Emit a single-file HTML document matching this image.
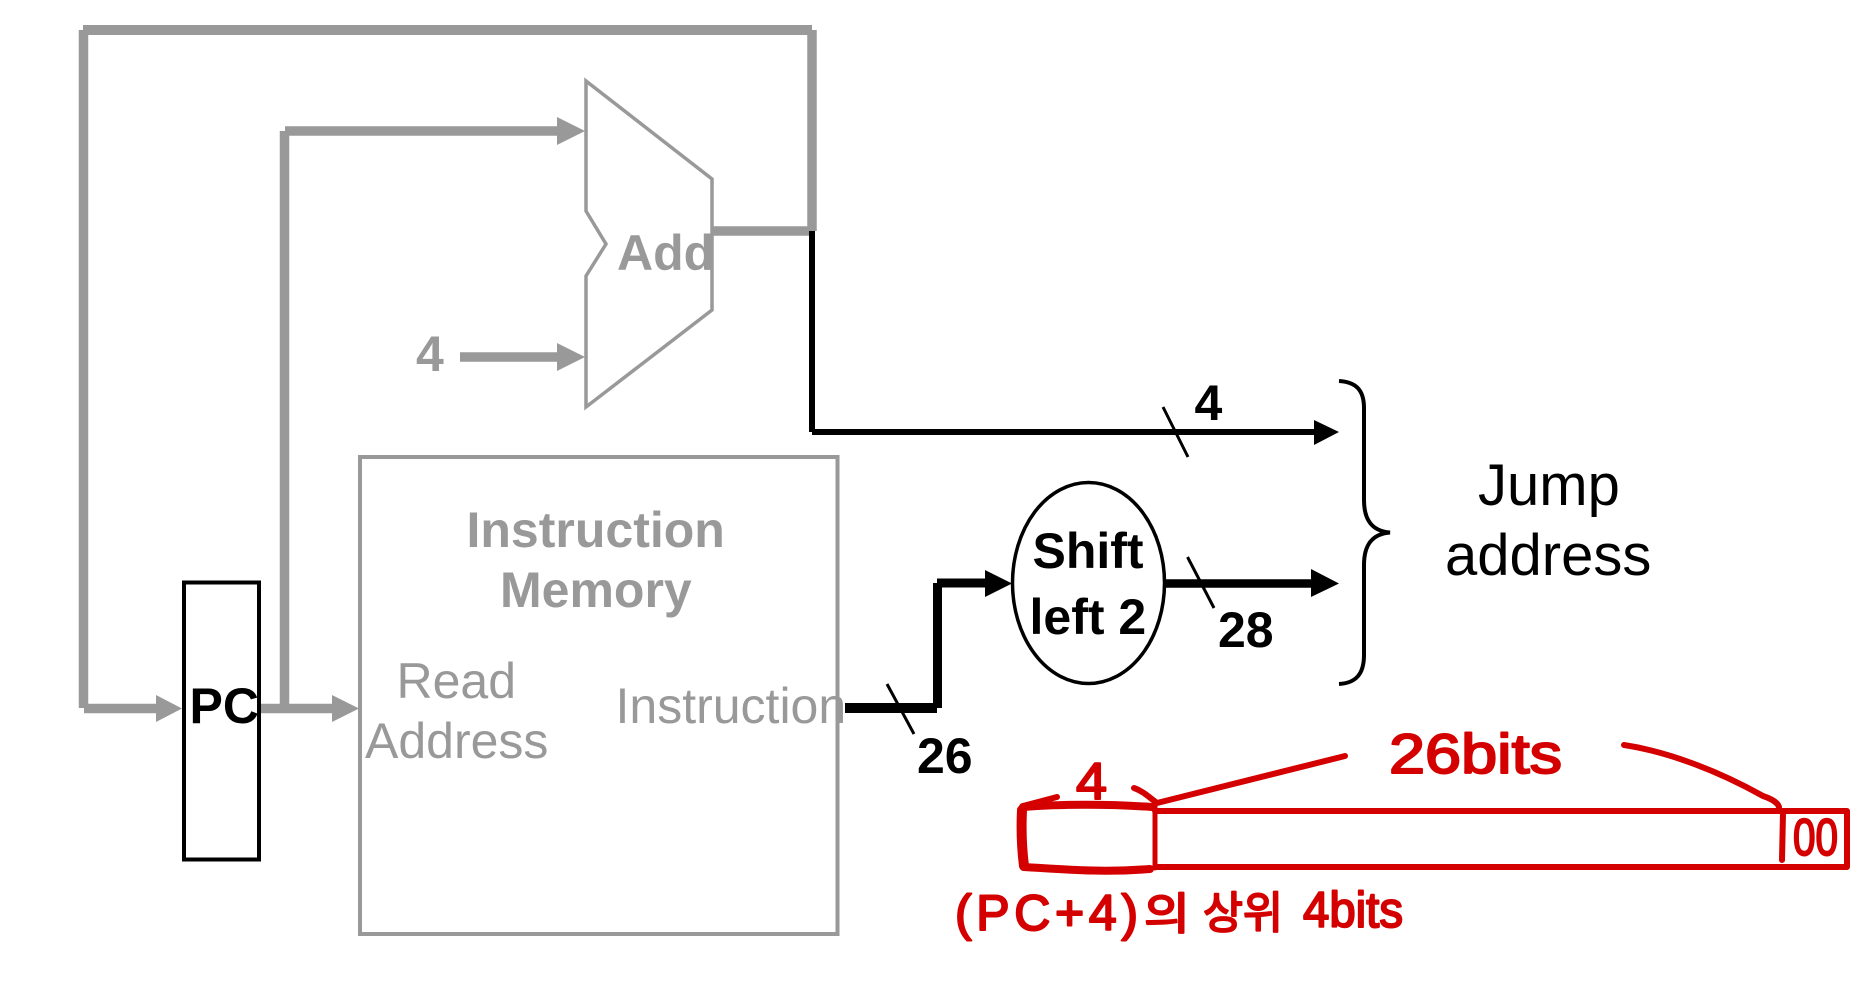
<!DOCTYPE html>
<html>
<head>
<meta charset="utf-8">
<style>
html,body{margin:0;padding:0;background:#fff;width:1869px;height:1000px;overflow:hidden}
svg{display:block}
text{font-family:"Liberation Sans","Noto Sans CJK KR",sans-serif}
.b{font-weight:bold;font-size:50px}
.r{font-size:50px}
.g{fill:#999}
.k{fill:#000}
.h{fill:#d40000;stroke:#d40000;stroke-width:2;stroke-linejoin:round}
</style>
</head>
<body>
<svg width="1869" height="1000" viewBox="0 0 1869 1000" xmlns="http://www.w3.org/2000/svg">
<rect width="1869" height="1000" fill="#fff"/>

<!-- Grey wires -->
<g fill="none" stroke="#999">
  <path d="M83 30H812" stroke-width="10"/>
  <path d="M83.500 30V708" stroke-width="9.500"/>
  <path d="M84 708.500H156" stroke-width="9.500"/>
  <path d="M812 30V231" stroke-width="9.500"/>
  <path d="M712 231H812" stroke-width="9.500"/>
  <path d="M285 131H557" stroke-width="9.500"/>
  <path d="M284.500 131V708" stroke-width="9.500"/>
  <path d="M259 708.500H332" stroke-width="9.500"/>
  <path d="M460 357H557" stroke-width="9.500"/>
</g>
<g fill="#999">
  <polygon points="156,695 182,708.500 156,722"/>
  <polygon points="332,695 359,708.500 332,722"/>
  <polygon points="557,117 585,131 557,145"/>
  <polygon points="557,343 585,357 557,371"/>
</g>

<!-- Adder -->
<polygon points="586,81 712,179 712,310 586,407 586,276 606,244 586,211" fill="none" stroke="#999" stroke-width="3.500"/>

<!-- Instruction memory -->
<rect x="360" y="457" width="477.500" height="477" fill="none" stroke="#999" stroke-width="4"/>

<!-- PC -->
<rect x="184" y="582.500" width="75" height="277" fill="none" stroke="#000" stroke-width="4"/>

<!-- Black wires -->
<g fill="none" stroke="#000">
  <path d="M812 231V432" stroke-width="6"/>
  <path d="M812 432H1314" stroke-width="6"/>
  <path d="M845 708H937" stroke-width="10"/>
  <path d="M937.500 583V708" stroke-width="9"/>
  <path d="M937 583H985" stroke-width="9"/>
  <path d="M1165 583.500H1311" stroke-width="8.500"/>
  <path d="M1163 407L1188 457M887 684L914 734M1187.500 557L1214 608" stroke-width="3"/>
</g>
<g fill="#000">
  <polygon points="1314,420 1339,432 1314,445"/>
  <polygon points="985,570 1012,583.500 985,597"/>
  <polygon points="1311,569 1339,583.500 1311,597"/>
</g>
<ellipse cx="1088.500" cy="583" rx="76" ry="100.500" fill="#fff" stroke="#000" stroke-width="3.500"/>

<!-- Brace -->
<path d="M1339 381C1356 382 1364 390 1364 408V500C1364 520 1372 531 1390 532.500C1372 534 1364 545 1364 565V655C1364 674 1356 683 1339 684" fill="none" stroke="#000" stroke-width="4"/>

<!-- Grey labels -->
<text class="b g" x="617" y="270">Add</text>
<text class="b g" x="416" y="371">4</text>
<text class="b g" x="466.500" y="547">Instruction</text>
<text class="b g" x="500" y="607">Memory</text>
<text class="r g" x="396.500" y="698">Read</text>
<text class="r g" x="365" y="758">Address</text>
<text class="r g" x="615.500" y="723">Instruction</text>

<!-- Black labels -->
<text class="b k" x="189.500" y="723">PC</text>
<text class="b k" x="1194.500" y="420">4</text>
<text class="b k" x="1032.500" y="568">Shift</text>
<text class="b k" x="1029.500" y="634">left 2</text>
<text class="b k" x="1218" y="647">28</text>
<text class="b k" x="917" y="773">26</text>
<text x="1478" y="505" font-size="58" fill="#000">Jump</text>
<text x="1445" y="575" font-size="58" fill="#000">address</text>

<!-- Red annotation -->
<g fill="none" stroke="#d40000" stroke-linecap="round" stroke-linejoin="round">
  <path d="M1155 811H1847V867H1155" stroke-width="6"/>
  <path d="M1155 806V868" stroke-width="5"/>
  <path d="M1023 807C1060 804 1110 804 1152 807" stroke-width="8"/>
  <path d="M1022 810C1021 830 1022 850 1024 866" stroke-width="10"/>
  <path d="M1024 867C1060 869 1100 873 1150 869" stroke-width="8"/>
  <path d="M1023 806L1057 797" stroke-width="6"/>
  <path d="M1134 788C1143 791 1150 798 1157 803L1345 756" stroke-width="6"/>
  <path d="M1624 745C1670 752 1720 772 1763 796C1772 799 1778 803 1779 807" stroke-width="6"/>
  <path d="M1783 813L1782 860" stroke-width="6"/>
</g>
<text class="h" x="1076" y="799" font-size="52" textLength="31" lengthAdjust="spacingAndGlyphs">4</text>
<text class="h" x="1389" y="773" font-size="56" textLength="173" lengthAdjust="spacingAndGlyphs">26bits</text>
<text class="h" x="1793" y="855" font-size="52" textLength="45" lengthAdjust="spacingAndGlyphs">00</text>
<text class="h" x="955" y="930" font-size="50" textLength="183" lengthAdjust="spacing">(PC+4)</text>
<text class="h" x="1144" y="929" font-size="44" textLength="46" lengthAdjust="spacingAndGlyphs">의</text>
<text class="h" x="1203" y="928" font-size="44" textLength="80" lengthAdjust="spacingAndGlyphs">상위</text>
<text class="h" x="1303" y="927" font-size="50" textLength="100" lengthAdjust="spacingAndGlyphs">4bits</text>
</svg>
</body>
</html>
